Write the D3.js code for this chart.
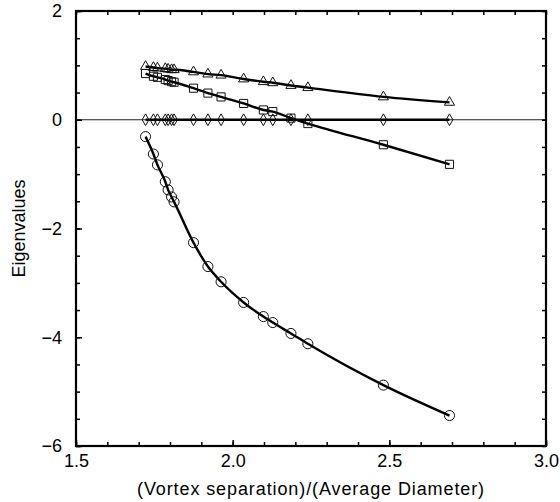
<!DOCTYPE html>
<html>
<head>
<meta charset="utf-8">
<script src="https://cdn.jsdelivr.net/npm/d3@7"></script>
<style>
  body { margin: 0; background: #fff; }
  svg { display: block; font-family: "Liberation Sans", Arial, sans-serif; }
</style>
</head>
<body>
<div id="chart"></div>
<script>
// values (all four series share the same x positions)
const separation = [1.722, 1.747, 1.760, 1.785, 1.794, 1.805, 1.813, 1.875, 1.921, 1.963, 2.035, 2.098, 2.128, 2.186, 2.240, 2.481, 2.692];
const triangleVals = [0.98, 0.96, 0.95, 0.94, 0.93, 0.92, 0.92, 0.88, 0.84, 0.82, 0.75, 0.70, 0.68, 0.63, 0.59, 0.42, 0.32];
const squareVals = [0.85, 0.80, 0.78, 0.74, 0.72, 0.70, 0.69, 0.58, 0.49, 0.42, 0.30, 0.18, 0.15, 0.03, -0.07, -0.46, -0.82];
const diamondVals = [0, 0, 0, 0, 0, 0, 0, 0, 0, 0, 0, 0, 0, 0, 0, 0, 0];
const circleVals = [-0.31, -0.63, -0.83, -1.14, -1.29, -1.42, -1.51, -2.26, -2.70, -2.98, -3.36, -3.62, -3.73, -3.93, -4.12, -4.88, -5.44];

const xMajor = [1.5, 2.0, 2.5, 3.0];
const yMajor = [-6, -4, -2, 0, 2];

// Declare the chart dimensions and margins.
const width = 560;
const height = 502;
const marginTop = 11;
const marginRight = 14;
const marginBottom = 56;
const marginLeft = 76;

const x = d3.scaleLinear([1.5, 3.0], [marginLeft, width - marginRight]);
const y = d3.scaleLinear([-6, 2], [height - marginBottom, marginTop]);

const svg = d3.select("#chart").append("svg")
    .attr("width", width)
    .attr("height", height);

// thin zero line across the whole plot
svg.append("line")
    .attr("x1", x(1.5)).attr("x2", x(3.0))
    .attr("y1", y(0)).attr("y2", y(0))
    .attr("stroke", "#222")
    .attr("stroke-width", 1);

const xMinor = d3.range(15, 31).map(d => d / 10);
const yMinor = d3.range(-12, 5).map(d => d / 2);

// minor ticks on all four sides, pointing inward
svg.append("g")
    .attr("transform", `translate(0,${y(-6)})`)
    .call(d3.axisBottom(x).tickValues(xMinor).tickSize(-4).tickFormat(""));
svg.append("g")
    .attr("transform", `translate(0,${y(2)})`)
    .call(d3.axisTop(x).tickValues(xMinor).tickSize(-4).tickFormat(""));
svg.append("g")
    .attr("transform", `translate(${x(1.5)},0)`)
    .call(d3.axisLeft(y).tickValues(yMinor).tickSize(-4).tickFormat(""));
svg.append("g")
    .attr("transform", `translate(${x(3.0)},0)`)
    .call(d3.axisRight(y).tickValues(yMinor).tickSize(-4).tickFormat(""));

// major ticks with labels
svg.append("g")
    .attr("transform", `translate(0,${y(-6)})`)
    .call(d3.axisBottom(x).tickValues(xMajor).tickSize(-6).tickPadding(8).tickFormat(d3.format(".1f")));
svg.append("g")
    .attr("transform", `translate(${x(1.5)},0)`)
    .call(d3.axisLeft(y).tickValues(yMajor).tickSize(-6).tickPadding(14).tickFormat(d => d3.format("d")(d).replace("-", "\u2212")));

svg.selectAll(".domain").remove();
svg.selectAll(".tick line").attr("stroke", "#000").attr("stroke-width", 1.5);
svg.selectAll(".tick text")
    .attr("fill", "#000")
    .attr("font-size", 18)
    .attr("font-family", "Liberation Sans, Arial, sans-serif");

// frame
svg.append("rect")
    .attr("x", x(1.5)).attr("y", y(2))
    .attr("width", x(3.0) - x(1.5))
    .attr("height", y(-6) - y(2))
    .attr("fill", "none")
    .attr("stroke", "#000")
    .attr("stroke-width", 2.2);

// series lines
const line = d3.line()
    .x(d => x(d[0]))
    .y(d => y(d[1]))
    .curve(d3.curveMonotoneX);

const series = [
    { vals: triangleVals, shape: "triangle" },
    { vals: squareVals, shape: "square" },
    { vals: diamondVals, shape: "diamond" },
    { vals: circleVals, shape: "circle" }
];

const symbols = {
    triangle: d3.symbol(d3.symbolTriangle, 44),
    square: d3.symbol(d3.symbolSquare, 66),
    diamond: d3.symbol(d3.symbolDiamond, 40),
    circle: d3.symbol(d3.symbolCircle, 80)
};

series.forEach(s => {
    const pts = separation.map((sx, i) => [sx, s.vals[i]]);
    svg.append("path")
        .attr("fill", "none")
        .attr("stroke", "#000")
        .attr("stroke-width", 2.4)
        .attr("d", line(pts));
    svg.append("g").selectAll("path")
        .data(pts)
        .join("path")
        .attr("transform", d => `translate(${x(d[0])},${y(d[1])})`)
        .attr("d", symbols[s.shape])
        .attr("fill", "none")
        .attr("stroke", "#111")
        .attr("stroke-width", 1);
});

// axis titles
svg.append("text")
    .attr("x", (x(1.5) + x(3.0)) / 2)
    .attr("y", 495)
    .attr("text-anchor", "middle")
    .attr("fill", "#000")
    .attr("font-size", 18)
    .attr("letter-spacing", 0.9)
    .text("(Vortex separation)/(Average Diameter)");

svg.append("text")
    .attr("transform", `translate(25,${(y(2) + y(-6)) / 2}) rotate(-90)`)
    .attr("text-anchor", "middle")
    .attr("fill", "#000")
    .attr("font-size", 18)
    .text("Eigenvalues");
</script>
</body>
</html>
